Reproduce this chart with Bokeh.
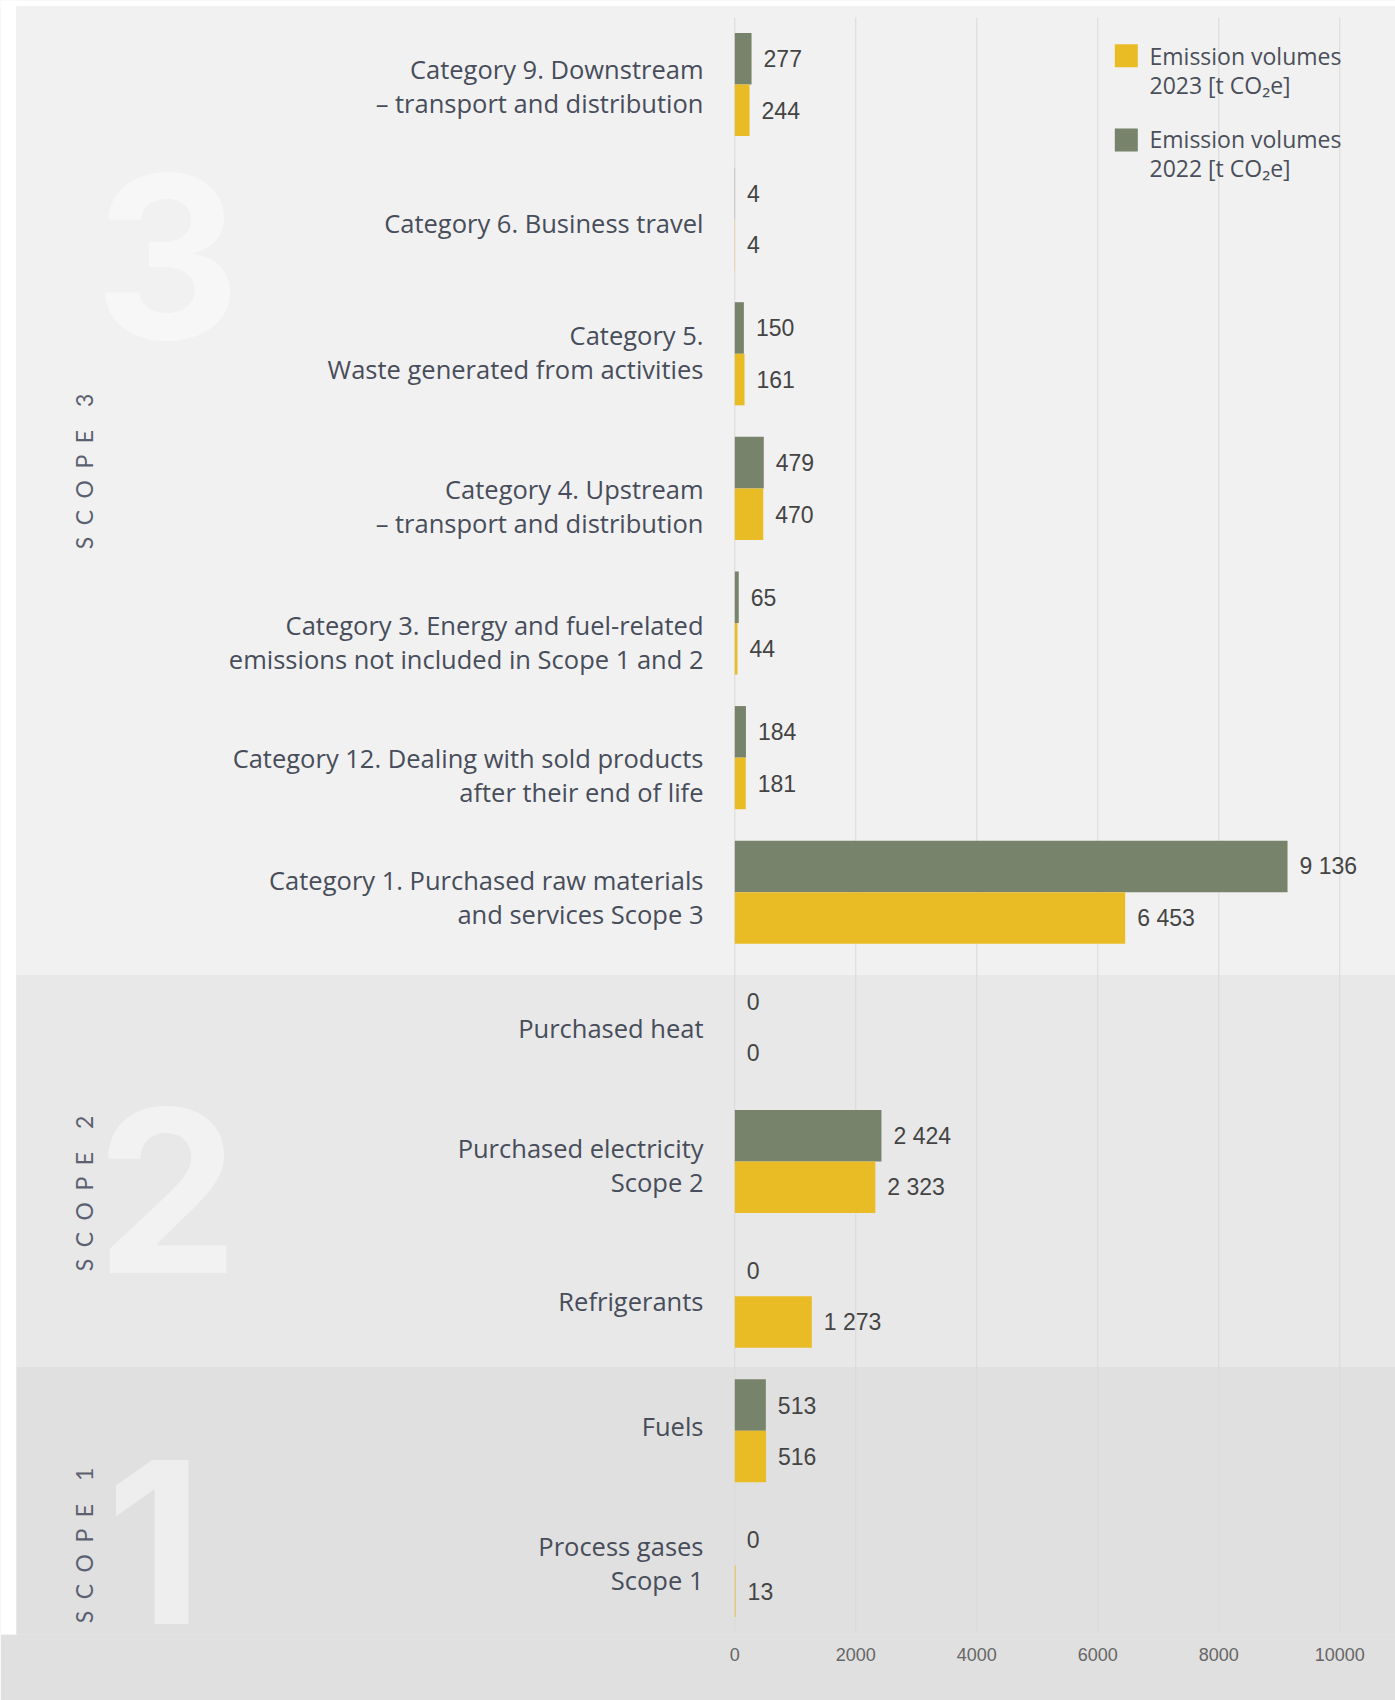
from bokeh.plotting import figure
from bokeh.models import Range1d, FixedTicker, ColumnDataSource
from bokeh.core.properties import value
from bokeh.embed import file_html
from bokeh.resources import INLINE
import math

# ---------------- data ----------------
categories = [
    "Category 9. Downstream\n\u2013 transport and distribution",
    "Category 6. Business travel",
    "Category 5.\nWaste generated from activities",
    "Category 4. Upstream\n\u2013 transport and distribution",
    "Category 3. Energy and fuel-related\nemissions not included in Scope 1 and 2",
    "Category 12. Dealing with sold products\nafter their end of life",
    "Category 1. Purchased raw materials\nand services Scope 3",
    "Purchased heat",
    "Purchased electricity\nScope 2",
    "Refrigerants",
    "Fuels",
    "Process gases\nScope 1",
]
v2022 = [277, 4, 150, 479, 65, 184, 9136, 0, 2424, 0, 513, 0]
v2023 = [244, 4, 161, 470, 44, 181, 6453, 0, 2323, 1273, 516, 13]
scope_names = ["S\u2002C\u2002O\u2002P\u2002E\u2002\u20023",
               "S\u2002C\u2002O\u2002P\u2002E\u2002\u20022",
               "S\u2002C\u2002O\u2002P\u2002E\u2002\u20021"]
scope_digits = ["3", "2", "1"]
x_ticks = [0, 2000, 4000, 6000, 8000, 10000]
legend_labels = ["Emission volumes\n2023 [t CO\u2082e]", "Emission volumes\n2022 [t CO\u2082e]"]

# ---------------- layout (screen px -> data) ----------------
X0, KX = 734.3, 0.0605      # screen x of value 0, px per unit
Y0, KY = 84.0, 134.63       # screen y of row 0 centre, px per row
# per-label vertical nudges (screen px), matching the reference placement
label_nudge = [1, 4, -1.5, 18, 19, 17, 5, 1, 3, 5, -4.5, -2.5]

def dx(px):
    return (px - X0) / KX

def dy(py):
    return (py - Y0) / KY

W, H = 1395, 1700
frame_bottom = 1634

p = figure(width=W, height=H, output_backend="svg", toolbar_location=None,
           x_range=Range1d(dx(0), dx(W)),
           y_range=Range1d(dy(frame_bottom), dy(0)),
           y_axis_location=None, x_axis_location="below",
           min_border_left=0, min_border_right=0, min_border_top=0,
           min_border_bottom=H - frame_bottom)
p.outline_line_color = None
p.background_fill_color = "#e0e0e0"
p.border_fill_color = "#e0e0e0"
p.xgrid.visible = False
p.ygrid.visible = False

# page margins (white) inside the frame
p.quad(left=[dx(-10), dx(-10)], right=[dx(16), dx(1410)],
       top=[dy(-10), dy(-10)], bottom=[dy(1710), dy(6)],
       fill_color="white", line_color=None)

# scope panels
panel_tops = [dy(6), dy(975), dy(1366.5)]
panel_bots = [dy(975), dy(1366.5), dy(1710)]
panel_cols = ["#f1f1f1", "#e8e8e8", "#e0e0e0"]
p.quad(left=dx(16), right=dx(1410), top=panel_tops, bottom=panel_bots,
       fill_color=panel_cols, line_color=None)

# big faint digits
digit_cols = ["#f7f7f7", "#f2f2f2", "#eeeeee"]
p.text(x=[dx(167), dx(167), dx(154)], y=[dy(342 - 86), dy(1276 - 86), dy(1629 - 88)],
       text=scope_digits, text_font=value("Inter"), text_font_style="bold",
       text_font_size="226px", text_color=digit_cols,
       text_align="center", text_baseline="alphabetic")

# vertical scope labels
p.text(x=[dx(83)] * 3, y=[dy(471), dy(1193), dy(1545)], text=scope_names,
       angle=math.pi / 2, text_font=value("Lato"), text_font_size="23px",
       text_color="#5b6170", text_align="center", text_baseline="middle")

# grid lines
p.segment(x0=x_ticks, x1=x_ticks, y0=dy(17), y1=dy(1632),
          line_color="#d9d9d9", line_width=1)

rows = list(range(len(categories)))
bh = 0.383
green = "#77836a"
yellow = "#e9bc26"
src = ColumnDataSource(dict(
    y=rows, v22=v2022, v23=v2023, cat=categories,
    ylab=[r + n / KY for r, n in zip(rows, label_nudge)],
    y22=[r - bh / 2 for r in rows], y23=[r + bh / 2 for r in rows],
    t22=[f"{v:,}".replace(",", " ") for v in v2022],
    t23=[f"{v:,}".replace(",", " ") for v in v2023],
))
p.hbar(y="y22", left=0, right="v22", height=bh, source=src,
       fill_color=green, line_color=None)
p.hbar(y="y23", left=0, right="v23", height=bh, source=src,
       fill_color=yellow, line_color=None)

for col_y, col_v, col_t in [("y22", "v22", "t22"), ("y23", "v23", "t23")]:
    p.text(x=col_v, y=col_y, text=col_t, source=src, x_offset=12,
           text_font=value("Liberation Sans"), text_font_size="23px",
           text_color="#444444", text_align="left", text_baseline="middle")

# category labels
p.text(x=dx(703), y="ylab", text="cat", source=src,
       text_font=value("Open Sans"), text_font_size="25.5px",
       text_line_height=1.0, text_color="#474d5a",
       text_align="right", text_baseline="middle")

# legend
p.rect(x=[dx(1125.8)] * 2, y=[dy(55.3), dy(139.5)], width=23, height=23,
       width_units="screen", height_units="screen",
       fill_color=[yellow, green], line_color=None)
p.text(x=[dx(1149)] * 2, y=[dy(70), dy(153.3)], text=legend_labels,
       text_font=value("Open Sans"), text_font_size="23px",
       text_line_height=0.9, text_color="#4a4f5a",
       text_align="left", text_baseline="middle")

# x axis
ax = p.xaxis[0]
ax.ticker = FixedTicker(ticks=x_ticks)
ax.axis_line_color = None
ax.major_tick_line_color = None
ax.minor_tick_line_color = None
ax.major_label_standoff = 7
ax.major_label_text_font = "Liberation Sans"
ax.major_label_text_font_size = "18px"
ax.major_label_text_color = "#666666"

open("out.html", "w").write(file_html(p, INLINE))
